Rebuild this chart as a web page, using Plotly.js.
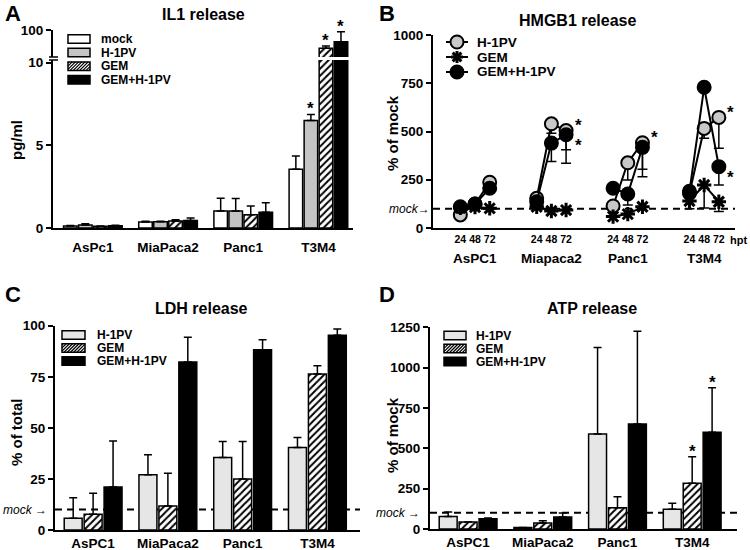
<!DOCTYPE html>
<html><head><meta charset="utf-8">
<script src="https://cdn.plot.ly/plotly-3.0.1.min.js"></script>
<style>html,body{margin:0;padding:0;background:#fff;}#chart{width:750px;height:550px;}</style>
</head><body><div id="chart"></div>
<script>
// ---------------- DATA ----------------
// Panel A: IL1 release (pg/ml)
const cellsA = ['AsPc1', 'MiaPaca2', 'Panc1', 'T3M4'];
const il1Mock = [0.12, 0.36, 1.03, 3.55];
const il1MockErr = [0.03, 0.05, 0.77, 0.80];
const il1H1PV = [0.18, 0.38, 1.03, 6.5];
const il1H1PVErr = [0.08, 0.03, 0.75, 0.37];
const il1GEM = [0.10, 0.42, 0.80, 39];
const il1GEMErr = [0.02, 0.08, 0.53, 7.7];
const il1Combo = [0.13, 0.46, 0.95, 61];
const il1ComboErr = [0.03, 0.14, 0.58, 33];
const il1StarsH1PV = ['T3M4'];
const il1StarsGEM = ['T3M4'];
const il1StarsCombo = ['T3M4'];

// Panel B: HMGB1 release (% of mock), 3 time points per cell line
const cellsB = ['AsPC1', 'Miapaca2', 'Panc1', 'T3M4'];
const hptLabels = ['24', '48', '72'];
const hmgbH1PV = [68, 124, 237, 154, 540, 505, 114, 338, 442, 180, 516, 573];
const hmgbH1PVErr = [0, 0, 0, 0, 49, 100, 0, 89, 137, 0, 51, 160];
const hmgbGEM = [105, 108, 102, 110, 88, 93, 59, 72, 110, 140, 223, 136];
const hmgbGEMErr = [0, 0, 0, 0, 0, 0, 0, 0, 0, 40, 119, 51];
const hmgbCombo = [110, 124, 206, 136, 440, 483, 206, 176, 418, 190, 729, 318];
const hmgbComboErr = [0, 0, 0, 0, 95, 147, 0, 57, 152, 0, 0, 95];
const hmgbStarsH1PV = ['Miapaca2', 'Panc1', 'T3M4'];   // at 72 hpt
const hmgbStarsCombo = ['Miapaca2', 'T3M4'];           // at 72 hpt

// Panel C: LDH release (% of total)
const cellsCD = ['AsPC1', 'MiaPaca2', 'Panc1', 'T3M4'];
const ldhH1PV = [5.7, 27, 35.5, 40.4];
const ldhH1PVErr = [10.1, 9.8, 7.8, 4.9];
const ldhGEM = [7.7, 11.8, 25, 76.3];
const ldhGEMErr = [10.3, 16, 18.3, 4.1];
const ldhCombo = [21, 82.2, 88.2, 95.3];
const ldhComboErr = [22.6, 12.1, 4.9, 3.1];

// Panel D: ATP release (% of mock)
const atpH1PV = [78, 10, 589, 122];
const atpH1PVErr = [27, 0, 536, 37];
const atpGEM = [43, 37, 132, 283];
const atpGEMErr = [0, 14, 68, 165];
const atpCombo = [64, 74, 651, 599];
const atpComboErr = [4, 25, 574, 277];
const atpStarsGEM = ['T3M4'];
const atpStarsCombo = ['T3M4'];

// mock reference levels
const mockB = 100, mockC = 10, mockD = 100;

// ---------------- HELPERS ----------------
const W = 750, H = 550;
const px = v => v / W;
const py = v => 1 - v / H;
const FONT = '"Liberation Sans", Arial, Helvetica, sans-serif';
const bold = (size) => ({family: FONT, size: size, color: '#000', weight: 'bold'});
const FILL = {white: '#ffffff', greyA: '#c4c4c4', grey: '#e6e6e6', black: '#000000', hatch: '#ffffff'};

function barMarker(style) {
  const m = {color: FILL[style], line: {color: '#000', width: 1.5}};
  if (style === 'hatch') m.pattern = {shape: '/', fgcolor: '#000', bgcolor: '#fff', size: 5, solidity: 0.4};
  return m;
}
function upErr(e) {
  return {type: 'data', symmetric: false, array: e, arrayminus: e.map(() => 0), color: '#000', thickness: 1.5, width: 4};
}

const traces = [];
const shapes = [];
const annotations = [];
const BARGAP = 0.2;
function offsetOf(i, n) { const w = (1 - BARGAP) / n; return -(1 - BARGAP) / 2 + w * (i + 0.5); }

// ---------------- PANEL A ----------------
const seriesA = [
  {y: il1Mock, e: il1MockErr, style: 'white', stars: []},
  {y: il1H1PV, e: il1H1PVErr, style: 'greyA', stars: il1StarsH1PV},
  {y: il1GEM, e: il1GEMErr, style: 'hatch', stars: il1StarsGEM},
  {y: il1Combo, e: il1ComboErr, style: 'black', stars: il1StarsCombo}
];
const A_SPLIT = 10;
['y', 'y2'].forEach(ya => seriesA.forEach(s => traces.push({
  type: 'bar', x: cellsA, y: s.y, xaxis: 'x', yaxis: ya, marker: barMarker(s.style),
  error_y: upErr(s.e), showlegend: false, hoverinfo: 'skip'
})));
seriesA.forEach((s, i) => s.stars.forEach(c => {
  const k = cellsA.indexOf(c);
  const top = s.y[k] + s.e[k];
  annotations.push({xref: 'x', yref: top > A_SPLIT ? 'y2' : 'y', x: k + offsetOf(i, 4), y: top,
    text: '*', showarrow: false, font: bold(17), yanchor: 'bottom', yshift: -6});
}));

// ---------------- PANEL B ----------------
const GROUP = 5.2;
const xPos = (g, t) => g * GROUP + (t - 1);
function lineSeries(vals, errs) {
  const x = [], y = [], em = [], ep = [];
  cellsB.forEach((c, g) => {
    hptLabels.forEach((h, t) => {
      const k = g * 3 + t;
      x.push(xPos(g, t)); y.push(vals[k]); em.push(errs[k]); ep.push(0);
    });
    x.push(null); y.push(null); em.push(0); ep.push(0);
  });
  return {x, y, em, ep};
}
const seriesB = [
  {v: hmgbH1PV, e: hmgbH1PVErr, marker: {symbol: 'circle', size: 13, color: '#c8c8c8', line: {color: '#000', width: 2}}},
  {v: hmgbGEM, e: hmgbGEMErr, marker: {symbol: 'asterisk-open', size: 12, color: '#000', line: {color: '#000', width: 3}}},
  {v: hmgbCombo, e: hmgbComboErr, marker: {symbol: 'circle', size: 13, color: '#000', line: {color: '#000', width: 2}}}
];
seriesB.forEach(s => {
  const d = lineSeries(s.v, s.e);
  traces.push({type: 'scatter', mode: 'lines+markers', x: d.x, y: d.y, xaxis: 'x2', yaxis: 'y3',
    line: {color: '#000', width: 2}, marker: s.marker, connectgaps: false,
    error_y: {type: 'data', symmetric: false, array: d.ep, arrayminus: d.em, color: '#000', thickness: 1.5, width: 5},
    showlegend: false, hoverinfo: 'skip', cliponaxis: false});
});
hmgbStarsH1PV.forEach(c => {
  const g = cellsB.indexOf(c);
  annotations.push({xref: 'x2', yref: 'y3', x: xPos(g, 2), y: hmgbH1PV[g * 3 + 2], text: '*', showarrow: false,
    font: bold(17), xshift: 12, yshift: 5});
});
hmgbStarsCombo.forEach(c => {
  const g = cellsB.indexOf(c);
  annotations.push({xref: 'x2', yref: 'y3', x: xPos(g, 2), y: hmgbCombo[g * 3 + 2], text: '*', showarrow: false,
    font: bold(17), xshift: 12, yshift: -11});
});
cellsB.forEach((c, g) => annotations.push({xref: 'x2', yref: 'paper', x: xPos(g, 1), y: py(258), text: c,
  showarrow: false, font: bold(13.5), yanchor: 'middle'}));
annotations.push({xref: 'paper', yref: 'paper', x: px(728), y: py(240), text: 'hpt', showarrow: false,
  font: bold(11), xanchor: 'left', yanchor: 'middle'});

// ---------------- PANEL C & D ----------------
function barPanel(xa, ya, cats, list) {
  list.forEach((s, i) => {
    traces.push({type: 'bar', x: cats, y: s.y, xaxis: xa, yaxis: ya, marker: barMarker(s.style),
      error_y: upErr(s.e), showlegend: false, hoverinfo: 'skip'});
    (s.stars || []).forEach(c => {
      const k = cats.indexOf(c);
      annotations.push({xref: xa, yref: ya, x: k + offsetOf(i, list.length), y: s.y[k] + s.e[k], text: '*',
        showarrow: false, font: bold(17), yanchor: 'bottom', yshift: -6});
    });
  });
}
barPanel('x3', 'y4', cellsCD, [
  {y: ldhH1PV, e: ldhH1PVErr, style: 'grey'},
  {y: ldhGEM, e: ldhGEMErr, style: 'hatch'},
  {y: ldhCombo, e: ldhComboErr, style: 'black'}
]);
barPanel('x4', 'y5', cellsCD, [
  {y: atpH1PV, e: atpH1PVErr, style: 'grey'},
  {y: atpGEM, e: atpGEMErr, style: 'hatch', stars: atpStarsGEM},
  {y: atpCombo, e: atpComboErr, style: 'black', stars: atpStarsCombo}
]);

// mock dashed lines
[['x2', 'y3', mockB], ['x3', 'y4', mockC], ['x4', 'y5', mockD]].forEach(([xa, ya, v]) => shapes.push({
  type: 'line', xref: xa + ' domain', yref: ya, x0: 0, x1: 1, y0: v, y1: v, layer: 'below',
  line: {color: '#000', width: 2, dash: '7px,5px'}
}));
const mockFont = {family: FONT, size: 12, color: '#000', style: 'italic'};
annotations.push({xref: 'paper', yref: 'y3', x: px(431), y: mockB, text: 'mock→', showarrow: false, font: mockFont, xanchor: 'right', borderpad: 0});
annotations.push({xref: 'paper', yref: 'y4', x: px(48), y: mockC, text: 'mock →', showarrow: false, font: mockFont, xanchor: 'right', borderpad: 0});
annotations.push({xref: 'paper', yref: 'y5', x: px(421), y: mockD, text: 'mock →', showarrow: false, font: mockFont, xanchor: 'right', borderpad: 0});

// axis break marks in panel A
[57, 60].forEach(yy => shapes.push({type: 'line', xref: 'paper', yref: 'paper', x0: px(49), x1: px(58), y0: py(yy), y1: py(yy), line: {color: '#000', width: 1.5}}));

// ---------------- LEGENDS (drawn) ----------------
function swatch(x, yc, w, h, style) {
  const x0 = x, x1 = x + w, yt = yc - h / 2, yb = yc + h / 2;
  shapes.push({type: 'rect', xref: 'paper', yref: 'paper', x0: px(x0), x1: px(x1), y0: py(yb), y1: py(yt),
    fillcolor: FILL[style], line: {color: '#000', width: 1.5}});
  if (style === 'hatch') {
    const s = 3.2;
    for (let c = -h + 1; c < w; c += s) {
      const u0 = Math.max(0, c), u1 = Math.min(w, h + c);
      if (u1 - u0 < 0.5) continue;
      shapes.push({type: 'line', xref: 'paper', yref: 'paper', x0: px(x0 + u0), y0: py(yb - (u0 - c)),
        x1: px(x0 + u1), y1: py(yb - (u1 - c)), line: {color: '#000', width: 1.2}});
    }
  }
}
function legendText(x, yc, t, size) {
  annotations.push({xref: 'paper', yref: 'paper', x: px(x), y: py(yc), text: t, showarrow: false,
    font: bold(size), xanchor: 'left', yanchor: 'middle', borderpad: 0});
}
const legA = [['mock', 'white'], ['H-1PV', 'greyA'], ['GEM', 'hatch'], ['GEM+H-1PV', 'black']];
legA.forEach(([t, st], i) => { const yc = 39 + i * 13.6; swatch(68, yc, 22, 8.5, st); legendText(100, yc, t, 12); });
const legCD = [['H-1PV', 'grey'], ['GEM', 'hatch'], ['GEM+H-1PV', 'black']];
legCD.forEach(([t, st], i) => { const yc = 335 + i * 13; swatch(62, yc, 23, 8.5, st); legendText(96, yc, t, 12); });
legCD.forEach(([t, st], i) => { const yc = 335.5 + i * 13; swatch(444, yc, 22, 8.5, st); legendText(475, yc, t, 12); });
// panel B legend
const legB = ['H-1PV', 'GEM', 'GEM+H-1PV'];
legB.forEach((t, i) => {
  const yc = 42 + i * 15, xc = 457;
  shapes.push({type: 'line', xref: 'paper', yref: 'paper', x0: px(446), x1: px(468), y0: py(yc), y1: py(yc), line: {color: '#000', width: 2}});
  if (i === 1) {
    const r = 6;
    [[r, 0], [0, r], [r * 0.72, r * 0.72], [r * 0.72, -r * 0.72]].forEach(([dx, dy]) => shapes.push({type: 'line', xref: 'paper', yref: 'paper',
      x0: px(xc - dx), x1: px(xc + dx), y0: py(yc - dy), y1: py(yc + dy), line: {color: '#000', width: 3}}));
  } else {
    shapes.push({type: 'circle', xref: 'paper', yref: 'paper', x0: px(xc - 6.5), x1: px(xc + 6.5), y0: py(yc + 6.5), y1: py(yc - 6.5),
      fillcolor: i === 0 ? '#c8c8c8' : '#000', line: {color: '#000', width: 2}});
  }
  legendText(476, yc, t, 13.5);
});

// ---------------- TEXT ----------------
[['A', 3, 13], ['B', 377, 13], ['C', 3, 294], ['D', 377, 294]].forEach(([t, x, y]) => annotations.push({
  xref: 'paper', yref: 'paper', x: px(x), y: py(y), text: t, showarrow: false, font: bold(22), xanchor: 'left', yanchor: 'middle'}));
[['IL1 release', 203, 14], ['HMGB1 release', 577, 20], ['LDH release', 201, 308], ['ATP release', 592, 308]].forEach(([t, x, y]) => annotations.push({
  xref: 'paper', yref: 'paper', x: px(x), y: py(y), text: t, showarrow: false, font: bold(16), xanchor: 'center', yanchor: 'middle'}));
[['pg/ml', 17, 140], ['% of mock', 392, 133], ['% of total', 16, 432], ['% of mock', 392, 435]].forEach(([t, x, y]) => annotations.push({
  xref: 'paper', yref: 'paper', x: px(x), y: py(y), text: t, showarrow: false, font: bold(15), textangle: -90, xanchor: 'center', yanchor: 'middle'}));

// ---------------- LAYOUT ----------------
const yCommon = {showline: true, linewidth: 2, linecolor: '#000', ticks: 'outside', ticklen: 5, tickwidth: 2, tickcolor: '#000',
  showgrid: false, zeroline: false, tickfont: bold(13.5), fixedrange: true};
const xCat = {type: 'category', showline: true, linewidth: 2, linecolor: '#000', ticks: '', showgrid: false, zeroline: false,
  tickfont: bold(13.5), fixedrange: true};

const layout = {
  width: W, height: H, margin: {l: 0, r: 0, t: 0, b: 0}, paper_bgcolor: '#fff', plot_bgcolor: 'rgba(0,0,0,0)',
  showlegend: false, barmode: 'group', bargap: BARGAP, bargroupgap: 0.1, font: {family: FONT},
  xaxis: Object.assign({}, xCat, {domain: [px(53), px(353)], range: [-0.53, 3.46], anchor: 'y', ticklabelstandoff: 6}),
  yaxis: Object.assign({}, yCommon, {domain: [py(228), py(60)], range: [0, 10.16], tickvals: [0, 5, 10], anchor: 'x'}),
  yaxis2: Object.assign({}, yCommon, {domain: [py(57), py(30)], range: [10, 100], tickvals: [100], anchor: 'x'}),
  xaxis2: {domain: [px(433), px(735)], range: [-2.86, 17.7], anchor: 'y3', showline: true, linewidth: 2, linecolor: '#000',
    ticks: '', showgrid: false, zeroline: false, tickfont: bold(10.5), fixedrange: true,
    tickvals: cellsB.flatMap((c, g) => hptLabels.map((h, t) => xPos(g, t))),
    ticktext: cellsB.flatMap(() => hptLabels)},
  yaxis3: Object.assign({}, yCommon, {domain: [py(228), py(35)], range: [0, 1000], tickvals: [0, 250, 500, 750, 1000], anchor: 'x2'}),
  xaxis3: Object.assign({}, xCat, {domain: [px(55), px(360)], range: [-0.51, 3.57], anchor: 'y4'}),
  yaxis4: Object.assign({}, yCommon, {domain: [py(530), py(325.7)], range: [0, 100], tickvals: [0, 25, 50, 75, 100], anchor: 'x3'}),
  xaxis4: Object.assign({}, xCat, {domain: [px(430), px(737)], range: [-0.51, 3.6], anchor: 'y5'}),
  yaxis5: Object.assign({}, yCommon, {domain: [py(529), py(327.3)], range: [0, 1250], tickvals: [0, 250, 500, 750, 1000, 1250], anchor: 'x4'}),
  shapes: shapes, annotations: annotations
};

Plotly.newPlot('chart', traces, layout, {staticPlot: true, displayModeBar: false});
</script>
</body></html>
